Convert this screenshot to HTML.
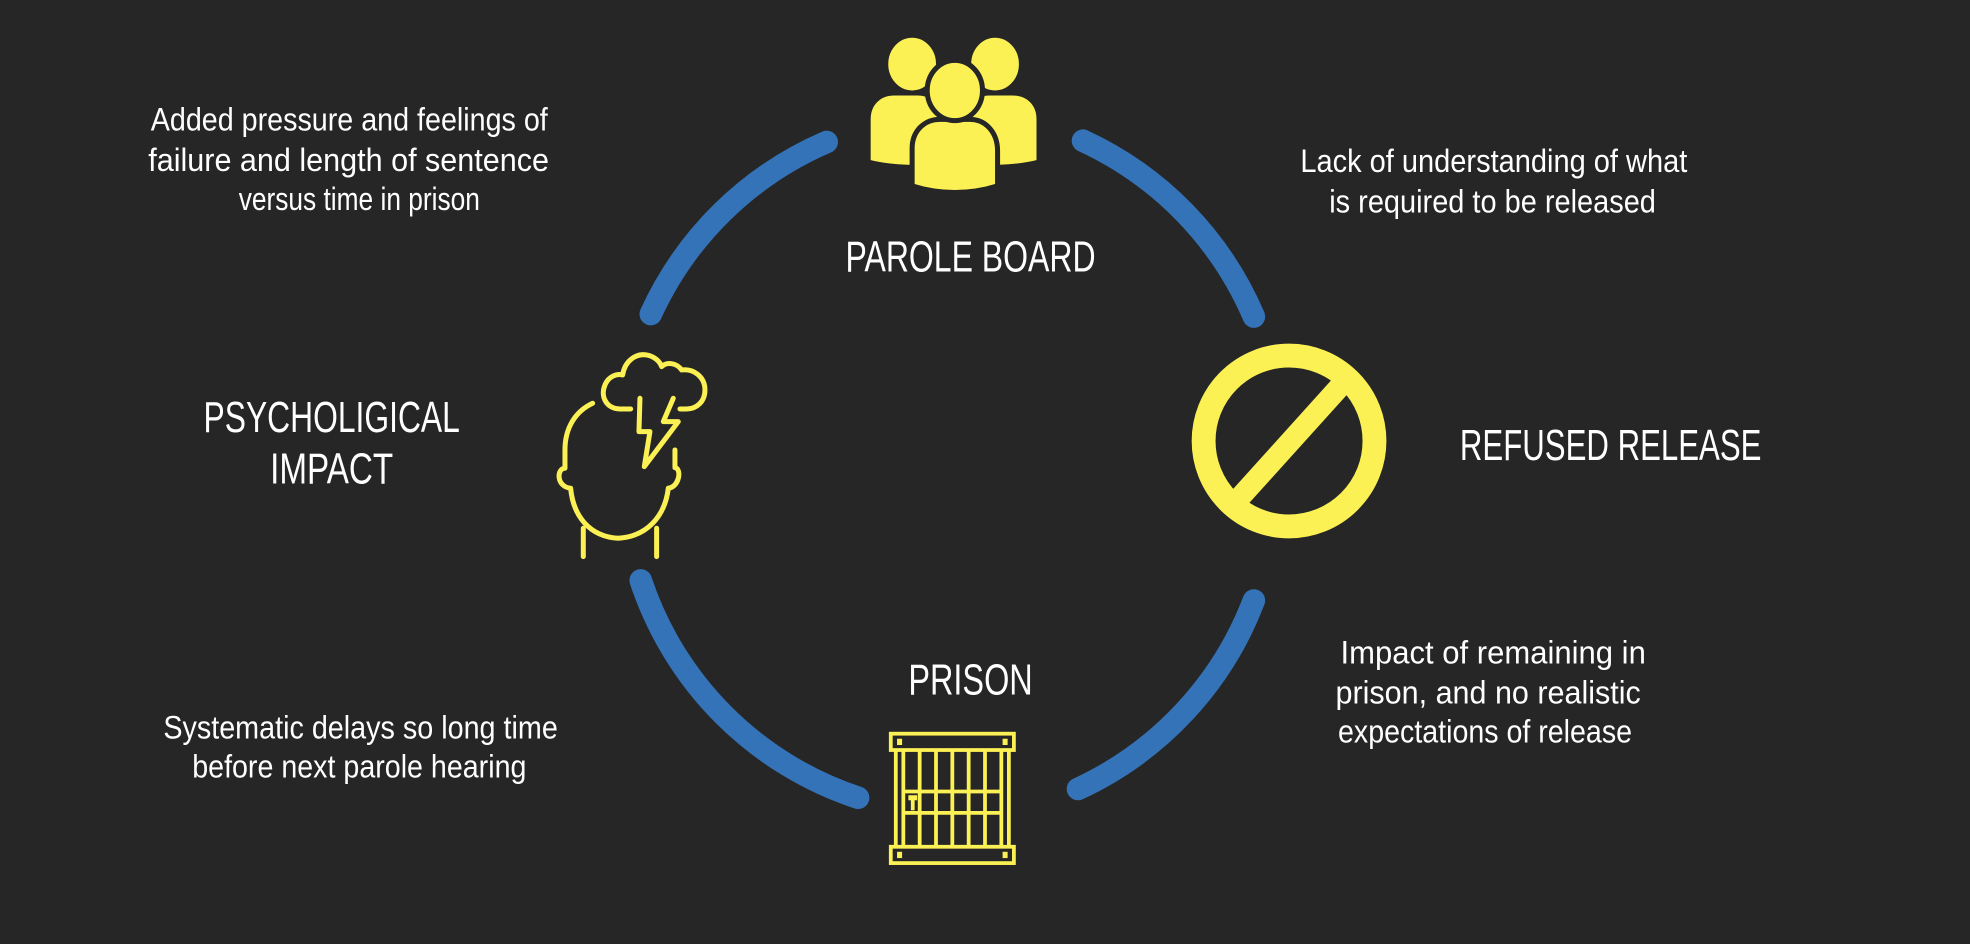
<!DOCTYPE html>
<html><head><meta charset="utf-8"><style>
html,body{margin:0;padding:0;background:#262626;}
svg{display:block}
text{font-family:"Liberation Sans Narrow","Liberation Sans",sans-serif;fill:#fff;}
</style></head><body>
<svg width="1970" height="944" viewBox="0 0 1568 751.4" preserveAspectRatio="none" xmlns="http://www.w3.org/2000/svg">
<rect width="1568" height="752" fill="#262626"/>
<g fill="none" stroke="#3473b7" stroke-width="18" stroke-linecap="round">
<path d="M658,113 A272,272 0 0 0 518,250"/>
<path d="M862,112 A272,272 0 0 1 998,252"/>
<path d="M510,462 A272,272 0 0 0 683,635"/>
<path d="M998,478 A272,272 0 0 1 858,628"/>
</g>
<!-- people -->
<g fill="#fcf154" stroke="#262626" stroke-width="4">
<path d="M691,129 L691,95 C691,82 700,74 712,74 L730,74 C745,74 752,86 752,100 L752,132 C735,134 710,134 691,129Z"/>
<path d="M827,129 L827,95 C827,82 818,74 806,74 L788,74 C773,74 766,86 766,100 L766,132 C783,134 808,134 827,129Z"/>
<ellipse cx="726" cy="51" rx="21" ry="23"/>
<ellipse cx="792" cy="51" rx="21" ry="23"/>
<path d="M726,148 L726,118 C726,104 736,95 748,95 L772,95 C785,95 794,106 794,120 L794,148 C772,155 748,155 726,148Z"/>
<ellipse cx="760" cy="72" rx="22" ry="24"/>
</g>
<!-- no sign -->
<g fill="none" stroke="#fcf154">
<circle cx="1026" cy="351" r="68" stroke-width="19"/>
<line x1="1068" y1="306" x2="985" y2="398" stroke-width="17"/>
</g>
<!-- prison -->
<g fill="none" stroke="#fcf154" stroke-width="3">
<rect x="709" y="584" width="98" height="13"/>
<rect x="709" y="674" width="98" height="13"/>
<line x1="713" y1="597" x2="713" y2="674"/><line x1="803" y1="597" x2="803" y2="674"/>
<line x1="719" y1="597" x2="719" y2="674"/><line x1="797" y1="597" x2="797" y2="674"/>
<line x1="732" y1="597" x2="732" y2="674"/><line x1="745" y1="597" x2="745" y2="674"/>
<line x1="758" y1="597" x2="758" y2="674"/><line x1="771" y1="597" x2="771" y2="674"/>
<line x1="784" y1="597" x2="784" y2="674"/>
<line x1="719" y1="630" x2="797" y2="630"/><line x1="719" y1="647" x2="797" y2="647"/>
</g>
<g fill="#fcf154"><rect x="714" y="588" width="4" height="5"/><rect x="798" y="588" width="4" height="5"/><rect x="714" y="678" width="4" height="5"/><rect x="798" y="678" width="4" height="5"/><rect x="723" y="633" width="7" height="4"/><rect x="725" y="635" width="3" height="10"/></g>
<!-- head -->
<g transform="scale(0.7959) translate(540,340) scale(0.3333)" fill="none" stroke="#fcf154" stroke-width="15" stroke-linecap="round" stroke-linejoin="round">
<path d="M272,207 L240,207 C200,207 180,170 195,135 C205,110 230,100 248,105 C255,60 290,40 320,45 C345,50 360,65 365,80 C380,65 410,68 425,90 C460,85 495,110 495,150 C495,185 470,207 440,207 L420,207"/>
<path d="M300,175 L297,275 L330,275 L313,380 L415,245 L370,245 L400,175"/>
<path d="M158,190 C105,215 75,265 75,330 L75,385 C50,385 48,440 92,445 C100,530 150,590 235,595 C320,590 375,530 385,445 C420,440 425,385 405,383 L405,330"/>
<path d="M130,565 L130,650 M350,565 L350,650"/>
</g>
<!-- texts -->
<g font-size="26">
<text x="120" y="104" textLength="316" lengthAdjust="spacingAndGlyphs">Added pressure and feelings of</text>
<text x="118" y="136" textLength="319" lengthAdjust="spacingAndGlyphs">failure and length of sentence</text>
<text x="190" y="167" textLength="192" lengthAdjust="spacingAndGlyphs">versus time in prison</text>
<text x="1035" y="137" textLength="308" lengthAdjust="spacingAndGlyphs">Lack of understanding of what</text>
<text x="1058" y="169" textLength="260" lengthAdjust="spacingAndGlyphs">is required to be released</text>
<text x="130" y="588" textLength="314" lengthAdjust="spacingAndGlyphs">Systematic delays so long time</text>
<text x="153" y="619" textLength="266" lengthAdjust="spacingAndGlyphs">before next parole hearing</text>
<text x="1067" y="528" textLength="243" lengthAdjust="spacingAndGlyphs">Impact of remaining in</text>
<text x="1063" y="560" textLength="243" lengthAdjust="spacingAndGlyphs">prison, and no realistic</text>
<text x="1065" y="591" textLength="234" lengthAdjust="spacingAndGlyphs">expectations of release</text>
</g>
<g font-size="35">
<text x="673" y="216" textLength="199" lengthAdjust="spacingAndGlyphs">PAROLE BOARD</text>
<text x="162" y="344" textLength="204" lengthAdjust="spacingAndGlyphs">PSYCHOLIGICAL</text>
<text x="215" y="385" textLength="98" lengthAdjust="spacingAndGlyphs">IMPACT</text>
<text x="1162" y="366" textLength="240" lengthAdjust="spacingAndGlyphs">REFUSED RELEASE</text>
<text x="723" y="553" textLength="99" lengthAdjust="spacingAndGlyphs">PRISON</text>
</g>
</svg>
</body></html>
